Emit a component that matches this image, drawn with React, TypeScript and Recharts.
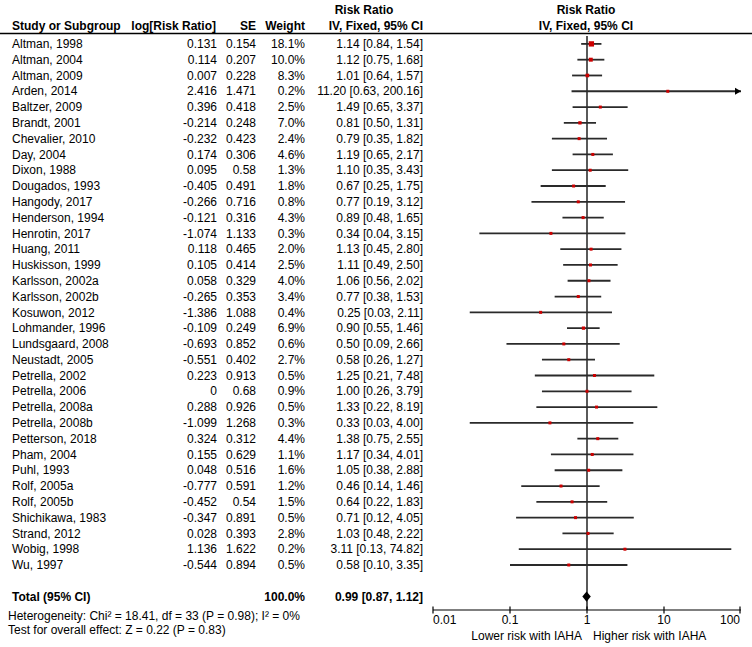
import React from 'react';
import {
  ComposedChart,
  Scatter,
  ErrorBar,
  XAxis,
  YAxis,
  ReferenceLine,
  ReferenceArea,
  Customized,
} from 'recharts';

const FONT = '"Liberation Sans", Arial, sans-serif';

const studyNames = [
  'Altman, 1998', 'Altman, 2004', 'Altman, 2009', 'Arden, 2014', 'Baltzer, 2009',
  'Brandt, 2001', 'Chevalier, 2010', 'Day, 2004', 'Dixon, 1988', 'Dougados, 1993',
  'Hangody, 2017', 'Henderson, 1994', 'Henrotin, 2017', 'Huang, 2011', 'Huskisson, 1999',
  'Karlsson, 2002a', 'Karlsson, 2002b', 'Kosuwon, 2012', 'Lohmander, 1996', 'Lundsgaard, 2008',
  'Neustadt, 2005', 'Petrella, 2002', 'Petrella, 2006', 'Petrella, 2008a', 'Petrella, 2008b',
  'Petterson, 2018', 'Pham, 2004', 'Puhl, 1993', 'Rolf, 2005a', 'Rolf, 2005b',
  'Shichikawa, 1983', 'Strand, 2012', 'Wobig, 1998', 'Wu, 1997',
];
const logRR = [
  0.131, 0.114, 0.007, 2.416, 0.396, -0.214, -0.232, 0.174, 0.095, -0.405,
  -0.266, -0.121, -1.074, 0.118, 0.105, 0.058, -0.265, -1.386, -0.109, -0.693,
  -0.551, 0.223, 0, 0.288, -1.099, 0.324, 0.155, 0.048, -0.777, -0.452,
  -0.347, 0.028, 1.136, -0.544,
];
const stdErr = [
  0.154, 0.207, 0.228, 1.471, 0.418, 0.248, 0.423, 0.306, 0.58, 0.491,
  0.716, 0.316, 1.133, 0.465, 0.414, 0.329, 0.353, 1.088, 0.249, 0.852,
  0.402, 0.913, 0.68, 0.926, 1.268, 0.312, 0.629, 0.516, 0.591, 0.54,
  0.891, 0.393, 1.622, 0.894,
];
const weights = [
  18.1, 10.0, 8.3, 0.2, 2.5, 7.0, 2.4, 4.6, 1.3, 1.8,
  0.8, 4.3, 0.3, 2.0, 2.5, 4.0, 3.4, 0.4, 6.9, 0.6,
  2.7, 0.5, 0.9, 0.5, 0.3, 4.4, 1.1, 1.6, 1.2, 1.5,
  0.5, 2.8, 0.2, 0.5,
];
const riskRatio = [
  1.14, 1.12, 1.01, 11.2, 1.49, 0.81, 0.79, 1.19, 1.1, 0.67,
  0.77, 0.89, 0.34, 1.13, 1.11, 1.06, 0.77, 0.25, 0.9, 0.5,
  0.58, 1.25, 1.0, 1.33, 0.33, 1.38, 1.17, 1.05, 0.46, 0.64,
  0.71, 1.03, 3.11, 0.58,
];
const ciLow = [
  0.84, 0.75, 0.64, 0.63, 0.65, 0.5, 0.35, 0.65, 0.35, 0.25,
  0.19, 0.48, 0.04, 0.45, 0.49, 0.56, 0.38, 0.03, 0.55, 0.09,
  0.26, 0.21, 0.26, 0.22, 0.03, 0.75, 0.34, 0.38, 0.14, 0.22,
  0.12, 0.48, 0.13, 0.1,
];
const ciHigh = [
  1.54, 1.68, 1.57, 200.16, 3.37, 1.31, 1.82, 2.17, 3.43, 1.75,
  3.12, 1.65, 3.15, 2.8, 2.5, 2.02, 1.53, 2.11, 1.46, 2.66,
  1.27, 7.48, 3.79, 8.19, 4.0, 2.55, 4.01, 2.88, 1.46, 1.83,
  4.05, 2.22, 74.82, 3.35,
];

const totalLabel = 'Total (95% CI)';
const totalWeight = 100.0;
const totalRR = 0.99;
const totalLow = 0.87;
const totalHigh = 1.12;

const xTicks = [0.01, 0.1, 1, 10, 100];
const heterogeneityText = 'Heterogeneity: Chi² = 18.41, df = 33 (P = 0.98); I² = 0%';
const overallEffectText = 'Test for overall effect: Z = 0.22 (P = 0.83)';
const favoursLeft = 'Lower risk with IAHA';
const favoursRight = 'Higher risk with IAHA';

const X_MIN = xTicks[0];
const X_MAX = xTicks[xTicks.length - 1];
const TOTAL_ROW = studyNames.length + 1;
const TICK_SIZE = 4;
const TICK_MARGIN = 2;

const rows = studyNames.map((name, i) => ({
  row: i,
  name,
  logRR: logRR[i],
  se: stdErr[i],
  weight: weights[i],
  rr: riskRatio[i],
  lo: ciLow[i],
  hi: ciHigh[i],
}));
// studies whose upper limit runs off the axis get an arrow at the edge
const overflowRows = rows.filter((r) => r.hi > X_MAX).map((r) => ({ row: r.row, rr: X_MAX }));

const fmtCI = (rr: number, lo: number, hi: number) =>
  `${rr.toFixed(2)} [${lo.toFixed(2)}, ${hi.toFixed(2)}]`;

const RowTick = (props: any) => {
  const { y, payload } = props;
  const idx = payload.value;
  if (idx === TOTAL_ROW) {
    return (
      <g fontFamily={FONT} fontSize={12} fontWeight="bold" fill="#000">
        <text x={12} y={y} dy="0.35em">{totalLabel}</text>
        <text x={305} y={y} dy="0.35em" textAnchor="end">{totalWeight.toFixed(1)}%</text>
        <text x={423} y={y} dy="0.35em" textAnchor="end">{fmtCI(totalRR, totalLow, totalHigh)}</text>
      </g>
    );
  }
  const r = rows[idx];
  if (!r) return null;
  return (
    <g fontFamily={FONT} fontSize={12} fill="#000">
      <text x={12} y={y} dy="0.35em">{r.name}</text>
      <text x={217} y={y} dy="0.35em" textAnchor="end">{String(r.logRR)}</text>
      <text x={256} y={y} dy="0.35em" textAnchor="end">{String(r.se)}</text>
      <text x={305} y={y} dy="0.35em" textAnchor="end">{r.weight.toFixed(1)}%</text>
      <text x={423} y={y} dy="0.35em" textAnchor="end">{fmtCI(r.rr, r.lo, r.hi)}</text>
    </g>
  );
};

// log axis tick: mark crosses the axis line, outer labels hug the ends
const LogTick = (props: any) => {
  const { x, y, payload } = props;
  const axisY = y - TICK_SIZE - TICK_MARGIN;
  const v = payload.value;
  const anchor = v === X_MIN ? 'start' : v === X_MAX ? 'end' : 'middle';
  return (
    <g>
      <line x1={x} x2={x} y1={axisY - 3.5} y2={axisY + 3.5} stroke="#000" strokeWidth={1.2} />
      <text x={x} y={axisY + 10} dy="0.35em" textAnchor={anchor} fontFamily={FONT} fontSize={12} fill="#000">
        {String(v)}
      </text>
    </g>
  );
};

const WeightSquare = (props: any) => {
  const { cx, cy, payload } = props;
  if (cx == null || cy == null) return null;
  const side = Math.max(3, 1.25 * Math.sqrt(payload.weight));
  return <rect x={cx - side / 2} y={cy - side / 2} width={side} height={side} fill="#cc0000" />;
};

const ArrowHead = (props: any) => {
  const { cx, cy } = props;
  if (cx == null || cy == null) return null;
  return <path d={`M${cx},${cy} L${cx - 6},${cy - 3.5} L${cx - 6},${cy + 3.5} Z`} fill="#000" />;
};

const Diamond = (props: any) => {
  const { x, y, width, height } = props;
  const mx = x + width / 2;
  const my = y + height / 2;
  return <path d={`M${x},${my} L${mx},${y} L${x + width},${my} L${mx},${y + height} Z`} fill="#000" />;
};

const Annotations = () => (
  <g fontFamily={FONT} fontSize={12} fill="#000">
    <g fontWeight="bold">
      <text x={364} y={10} dy="0.35em" textAnchor="middle">Risk Ratio</text>
      <text x={12} y={26} dy="0.35em">Study or Subgroup</text>
      <text x={216} y={26} dy="0.35em" textAnchor="end">log[Risk Ratio]</text>
      <text x={256} y={26} dy="0.35em" textAnchor="end">SE</text>
      <text x={305} y={26} dy="0.35em" textAnchor="end">Weight</text>
      <text x={423} y={26} dy="0.35em" textAnchor="end">IV, Fixed, 95% CI</text>
      <text x={586} y={10} dy="0.35em" textAnchor="middle">Risk Ratio</text>
      <text x={586} y={26} dy="0.35em" textAnchor="middle">IV, Fixed, 95% CI</text>
    </g>
    <line x1={0} x2={752} y1={33.5} y2={33.5} stroke="#000" strokeWidth={1.5} />
    <text x={8} y={616} dy="0.35em">{heterogeneityText}</text>
    <text x={8} y={630} dy="0.35em">{overallEffectText}</text>
    <text x={582} y={636} dy="0.35em" textAnchor="end">{favoursLeft}</text>
    <text x={593} y={636} dy="0.35em">{favoursRight}</text>
  </g>
);

export default function App() {
  return (
    <div style={{ position: 'absolute', left: 0, top: 0, background: '#fff' }}>
      <ComposedChart
        width={752}
        height={647}
        layout="vertical"
        data={rows}
        margin={{ top: 36, right: 11, bottom: 0, left: 8 }}
        style={{ fontFamily: FONT }}
      >
        <XAxis
          type="number"
          dataKey="rr"
          scale="log"
          domain={[X_MIN, X_MAX]}
          ticks={xTicks}
          allowDataOverflow
          height={37}
          stroke="#000"
          strokeWidth={1.2}
          tickSize={TICK_SIZE}
          tickMargin={TICK_MARGIN}
          tickLine={false}
          tick={<LogTick />}
        />
        <YAxis
          type="number"
          dataKey="row"
          domain={[-0.5, 35.85]}
          width={425}
          ticks={[...rows.map((r) => r.row), TOTAL_ROW]}
          interval={0}
          axisLine={false}
          tickLine={false}
          tick={<RowTick />}
        />
        <ReferenceLine x={1} stroke="#000" strokeWidth={1.3} />
        <Scatter data={rows} shape={WeightSquare} isAnimationActive={false}>
          <ErrorBar
            dataKey={(d: any) => [d.rr - d.lo, Math.min(d.hi, X_MAX) - d.rr]}
            direction="x"
            width={0}
            stroke="#2a2a2a"
            strokeWidth={1.8}
          />
        </Scatter>
        <Scatter data={overflowRows} shape={ArrowHead} isAnimationActive={false} />
        <ReferenceArea
          x1={totalLow}
          x2={totalHigh}
          y1={TOTAL_ROW - 0.32}
          y2={TOTAL_ROW + 0.32}
          shape={<Diamond />}
        />
        <Customized component={Annotations} />
      </ComposedChart>
    </div>
  );
}
